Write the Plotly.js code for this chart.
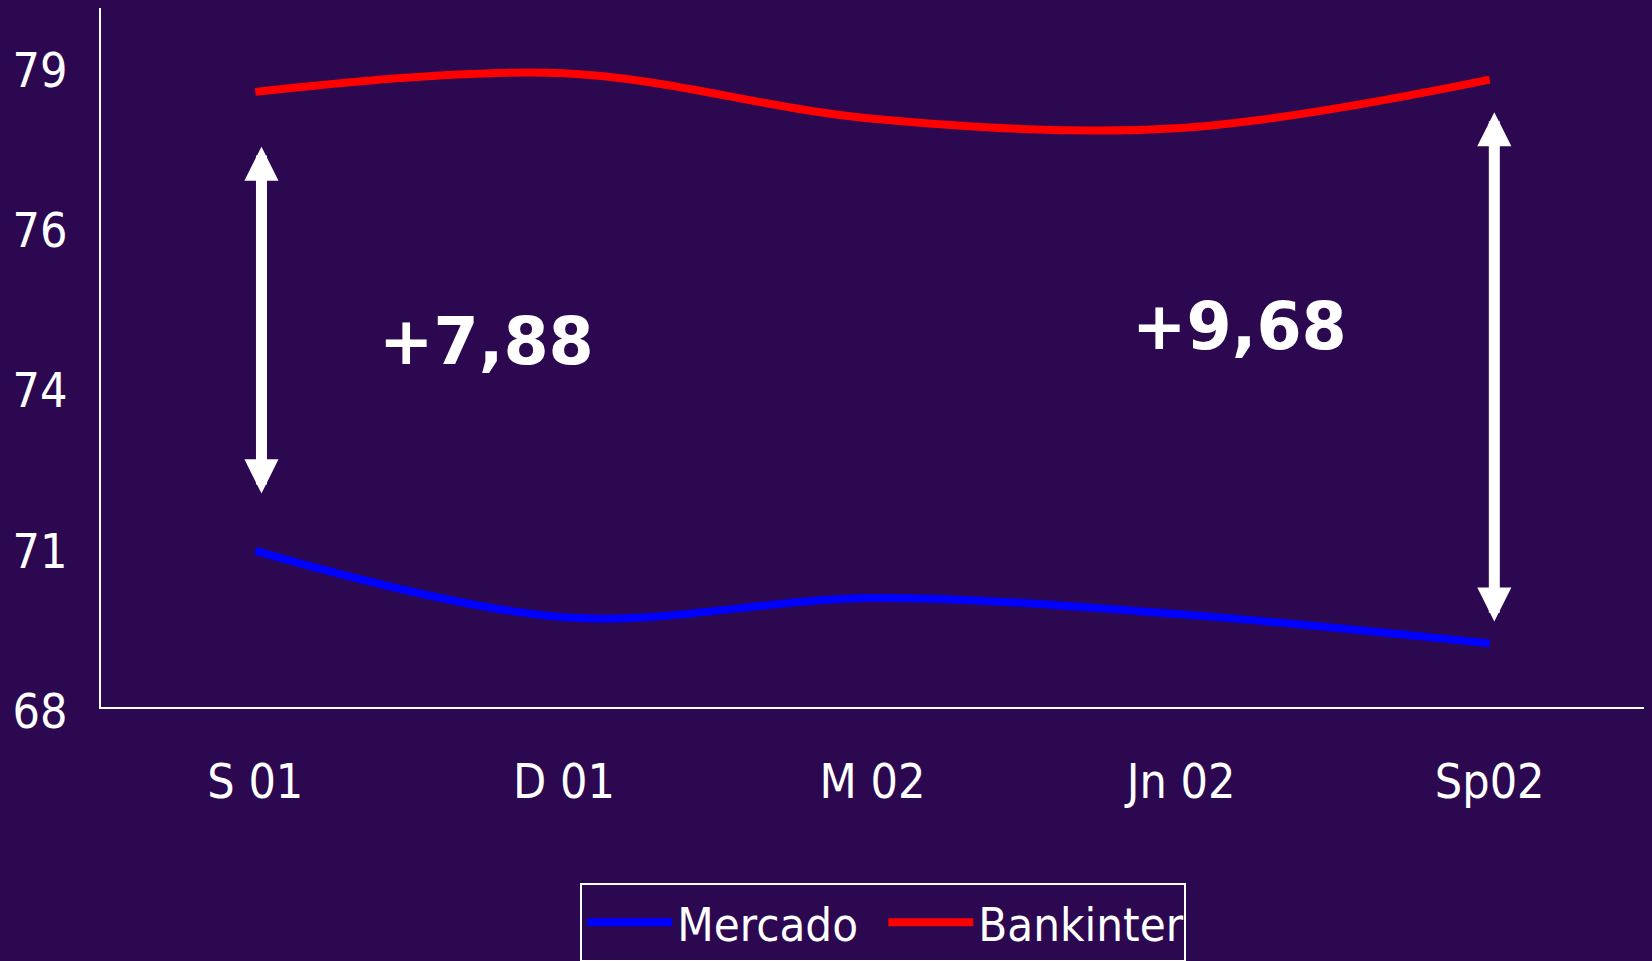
<!DOCTYPE html>
<html>
<head>
<meta charset="utf-8">
<script src="https://cdn.plot.ly/plotly-3.0.1.min.js"></script>
<style>html,body{margin:0;padding:0;background:#2B0850;}#chart{width:1652px;height:961px;}</style>
</head>
<body>
<div id="chart"></div>
<script>
const categories = ["S 01", "D 01", "M 02", "Jn 02", "Sp02"];
const mercado = [70.68, 69.54, 69.87, 69.59, 69.09];
const bankinter = [78.56, 78.88, 78.10, 77.94, 78.77];
const gapLabels = ["+7,88", "+9,68"];

const BG = "#2B0850";
const FONT = "'DejaVu Sans Condensed', 'DejaVu Sans', sans-serif";

const traces = [
  {x: categories, y: mercado, name: "Mercado", type: "scatter", mode: "lines",
   line: {color: "#0000FF", width: 8, shape: "spline", smoothing: 1}},
  {x: categories, y: bankinter, name: "Bankinter", type: "scatter", mode: "lines",
   line: {color: "#FF0000", width: 8, shape: "spline", smoothing: 1}}
];

function dblArrow(xIdx, y0, y1) {
  return {x: xIdx, y: y1, ax: xIdx, ay: y0, xref: "x", yref: "y", axref: "x", ayref: "y",
    text: "", showarrow: true, arrowhead: 2, startarrowhead: 2, arrowside: "end+start",
    arrowsize: 0.62, startarrowsize: 0.62, arrowwidth: 11, arrowcolor: "#FFFFFF"};
}

const layout = {
  width: 1652, height: 961,
  paper_bgcolor: BG, plot_bgcolor: BG,
  margin: {l: 101, r: 8, t: 8, b: 254, autoexpand: false},
  font: {family: FONT, color: "#FFFFFF", size: 48},
  showlegend: true,
  legend: {orientation: "h", x: 0.507, xanchor: "center",
    yref: "container", y: 0.081, yanchor: "top",
    bordercolor: "#FFFFFF", borderwidth: 2, bgcolor: BG,
    font: {family: FONT, size: 47, color: "#FFFFFF"}, itemwidth: 85,
    entrywidth: 201, entrywidthmode: "pixels"},
  xaxis: {type: "category", range: [-0.5, 4.5], showgrid: false, zeroline: false,
    showline: true, linecolor: "#FFFFFF", linewidth: 2,
    ticks: "outside", ticklen: 31, tickcolor: "rgba(0,0,0,0)",
    tickfont: {family: FONT, size: 48, color: "#FFFFFF"}},
  yaxis: {range: [68, 80], tick0: 68, dtick: 2.75, tickformat: ".0f",
    showgrid: false, zeroline: false, showline: true, linecolor: "#FFFFFF", linewidth: 2,
    ticks: "outside", ticklen: 22, tickcolor: "rgba(0,0,0,0)", ticklabelshift: 4,
    tickfont: {family: FONT, size: 48, color: "#FFFFFF"}},
  annotations: [
    dblArrow(0.02, 71.64, 77.62),
    dblArrow(4.015, 69.44, 78.21),
    {x: 0.75, y: 74.27, xref: "x", yref: "y", text: gapLabels[0], showarrow: false,
     font: {family: "'DejaVu Sans', sans-serif", size: 65, color: "#FFFFFF", weight: "bold"}},
    {x: 3.19, y: 74.53, xref: "x", yref: "y", text: gapLabels[1], showarrow: false,
     font: {family: "'DejaVu Sans', sans-serif", size: 65, color: "#FFFFFF", weight: "bold"}}
  ]
};

Plotly.newPlot("chart", traces, layout, {displayModeBar: false, staticPlot: true});
</script>
</body>
</html>
